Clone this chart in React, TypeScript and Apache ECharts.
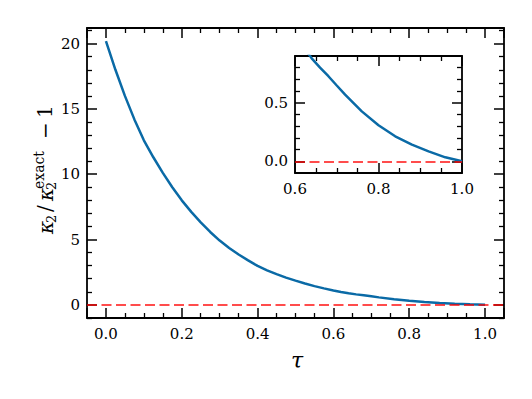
import React, { useEffect, useRef } from "react";
import * as echarts from "echarts";

// τ values and κ2/κ2^exact − 1
const tau = [0, 0.025, 0.05, 0.075, 0.1, 0.125, 0.15, 0.175, 0.2, 0.225, 0.25, 0.275, 0.3, 0.325, 0.35, 0.375, 0.4, 0.425, 0.45, 0.475, 0.5, 0.525, 0.55, 0.575, 0.6, 0.62, 0.64, 0.66, 0.68, 0.7, 0.72, 0.76, 0.8, 0.84, 0.88, 0.92, 0.96, 1.0];
const ratio = [20.2, 18.0, 16.0, 14.2, 12.6, 11.3, 10.1, 9.0, 8.0, 7.12, 6.32, 5.58, 4.92, 4.35, 3.85, 3.4, 2.98, 2.64, 2.35, 2.08, 1.85, 1.63, 1.43, 1.26, 1.1, 0.98, 0.88, 0.80, 0.727, 0.648, 0.57, 0.427, 0.308, 0.214, 0.142, 0.085, 0.034, 0.0];
const referenceLevel = [0];

const mainX = { min: -0.05, max: 1.05, step: 0.2, minor: 4 };
const mainY = { min: -1.01, max: 21.2, step: 5, minor: 5 };
const insetX = { min: 0.6, max: 1.0, step: 0.2, minor: 4 };
const insetY = { min: -0.1, max: 0.9, step: 0.5, minor: 5 };

const FONT = "DejaVu Serif";
const BLUE = "#0a6aa6";
const RED = "rgba(255,0,0,0.7)";

function axis(kind: "x" | "y", grid: number, pos: string, r: any, labels: boolean, fmt: (v: number) => string, showEnds: boolean) {
  return {
    type: "value",
    gridIndex: grid,
    position: pos,
    min: r.min,
    max: r.max,
    minInterval: r.step,
    maxInterval: r.step,
    splitNumber: 5,
    axisLine: { show: true, onZero: false, lineStyle: { color: "#000", width: 1.8 } },
    axisTick: { show: true, inside: true, length: 10, lineStyle: { color: "#000", width: 1.5 } },
    minorTick: { show: true, splitNumber: r.minor, length: 5, lineStyle: { color: "#000", width: 1.3 } },
    splitLine: { show: false },
    minorSplitLine: { show: false },
    axisLabel: {
      show: labels,
      formatter: fmt,
      fontFamily: FONT,
      fontSize: 15,
      color: "#000",
      margin: kind === "x" ? 8 : 7,
      showMinLabel: showEnds,
      showMaxLabel: showEnds,
    },
  };
}

function txt(text: string, x: number, y: number, size: number, italic = false) {
  return {
    type: "text",
    x,
    y,
    style: {
      text,
      fontFamily: FONT,
      fontSize: size,
      fontStyle: italic ? "italic" : "normal",
      fill: "#000",
      textAlign: "left",
      textVerticalAlign: "middle",
    },
  };
}

export default function App() {
  const ref = useRef<HTMLDivElement>(null);
  useEffect(() => {
    if (!ref.current) return;
    const chart = echarts.init(ref.current, null, { renderer: "svg" });
    const pts = tau.map((t, i) => [t, ratio[i]]);
    const f1 = (v: number) => v.toFixed(1);
    const f0 = (v: number) => String(Math.round(v));
    const seriesFor = (xi: number, yi: number) => ({
      type: "line",
      xAxisIndex: xi,
      yAxisIndex: yi,
      data: pts,
      showSymbol: false,
      smooth: false,
      clip: true,
      lineStyle: { color: BLUE, width: 2.5 },
      markLine: {
        silent: true,
        symbol: ["none", "none"],
        label: { show: false },
        lineStyle: { color: RED, width: 2, type: [10, 4.5] },
        data: referenceLevel.map((v) => ({ yAxis: v })),
      },
    });
    chart.setOption({
      animation: false,
      backgroundColor: "#fff",
      grid: [
        { left: 87, top: 28, width: 417, height: 290, containLabel: false },
        { left: 295, top: 56, width: 167, height: 117, containLabel: false },
      ],
      xAxis: [
        axis("x", 0, "bottom", mainX, true, f1, false),
        axis("x", 0, "top", mainX, false, f1, false),
        axis("x", 1, "bottom", insetX, true, f1, true),
        axis("x", 1, "top", insetX, false, f1, true),
      ],
      yAxis: [
        axis("y", 0, "left", mainY, true, f0, false),
        axis("y", 0, "right", mainY, false, f0, false),
        axis("y", 1, "left", insetY, true, f1, false),
        axis("y", 1, "right", insetY, false, f1, false),
      ],
      series: [seriesFor(0, 0), seriesFor(2, 2)],
      graphic: [
        {
          type: "text",
          x: 297,
          y: 360,
          style: { text: "τ", fontFamily: FONT, fontSize: 22, fontStyle: "italic", fill: "#000", textAlign: "center", textVerticalAlign: "middle" },
        },
        {
          type: "group",
          x: 46,
          y: 170,
          rotation: Math.PI / 2,
          children: [
            txt("κ", -64, 0, 20, true),
            txt("2", -53, 5, 13),
            txt("/", -42, -1, 20),
            txt("κ", -31, 0, 20, true),
            txt("2", -20, 5, 13),
            txt("exact", -19, -7, 14),
            txt("−", 31, -1, 20),
            txt("1", 52, -1, 20),
          ],
        },
      ],
    });
    return () => chart.dispose();
  }, []);
  return <div ref={ref} style={{ width: 532, height: 399, position: "absolute", left: 0, top: 0 }} />;
}
